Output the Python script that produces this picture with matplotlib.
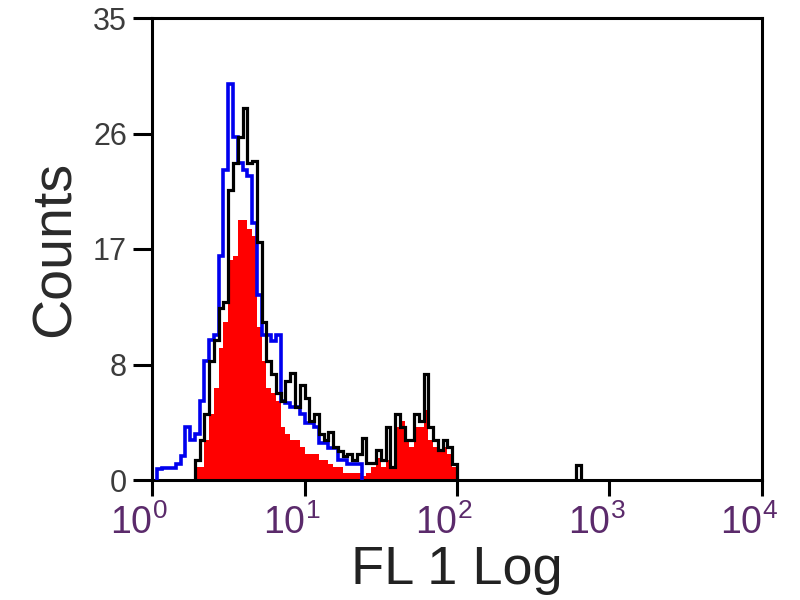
import matplotlib.pyplot as plt
import matplotlib.transforms as mtransforms
import numpy as np

plt.rcParams["font.family"] = ["Liberation Sans", "DejaVu Sans"]
plt.rcParams["mathtext.fontset"] = "custom"
plt.rcParams["mathtext.rm"] = "Liberation Sans"
plt.rcParams["mathtext.it"] = "Liberation Sans"

CH_PER_DECADE = 32  # channels per log decade

# counts per channel, channel 0 starts at 10^0
blue_counts = [0, 0.8, 0.9, 0.9, 0.9, 1.2, 1.8, 4.0, 3.0, 3.5,
               6.0, 9.0, 10.6, 11.0, 17.0, 23.5, 30.0, 26.0, 24.0, 23.5,
               23.0, 19.5, 14.0, 11.0, 11.0, 10.5, 11.0, 6.0, 5.8, 5.5,
               5.5, 5.0, 4.3, 4.3, 4.0, 2.8, 2.8, 2.4, 2.4, 1.5,
               1.5, 1.2, 1.2, 1.2, 0]

black_counts = [0, 0, 0, 0, 0, 0, 0, 0, 0, 1.5,
                3.0, 5.0, 9.0, 10.6, 13.0, 13.5, 22.0, 24.0, 26.0, 28.2,
                24.0, 24.2, 18.0, 12.0, 9.0, 8.0, 6.6, 6.0, 7.5, 8.1,
                5.5, 7.2, 6.2, 4.5, 5.0, 3.5, 3.0, 3.6, 2.5, 2.2,
                1.8, 2.0, 1.5, 2.0, 3.2, 1.3, 1.3, 2.3, 1.5, 4.0,
                1.0, 5.0, 4.0, 3.0, 3.0, 5.0, 4.5, 8.0, 4.0, 3.0,
                2.3, 3.0, 2.5, 1.2]
black_spike_channel = 89
black_spike_count = 1.1

red_counts = [0, 0, 0, 0, 0, 0, 0, 0, 0, 1.0,
              1.0, 3.0, 5.0, 7.0, 10.0, 12.0, 16.7, 17.0, 19.7, 19.7,
              19.0, 18.5, 11.6, 9.0, 7.0, 6.6, 6.0, 4.0, 3.5, 3.0,
              3.0, 2.5, 2.0, 2.0, 2.0, 1.5, 1.5, 1.2, 1.0, 1.0,
              0.5, 0.5, 0.5, 0.5, 0.3, 0.5, 1.0, 1.7, 1.0, 1.5,
              1.0, 4.0, 4.5, 3.0, 2.5, 4.0, 4.0, 5.3, 3.0, 2.5,
              2.3, 2.5, 2.0, 1.0]

# the y axis is split in 4 equal steps, labels are truncated
y_ticks = [0, 8.75, 17.5, 26.25, 35]
y_tick_labels = ["0", "8", "17", "26", "35"]
x_ticks = [1, 10, 100, 1000, 10000]
x_tick_labels = [r"$10^{0}$", r"$10^{1}$", r"$10^{2}$", r"$10^{3}$", r"$10^{4}$"]


def channel_edges(first, n):
    return 10 ** (np.arange(first, first + n + 1) / CH_PER_DECADE)


def trimmed(counts):
    # drop leading / trailing empty channels so no line runs along the baseline
    c = np.asarray(counts, dtype=float)
    nz = np.nonzero(c)[0]
    lo, hi = nz[0], nz[-1] + 1
    return c[lo:hi], channel_edges(lo, hi - lo)


fig = plt.figure(figsize=(8, 6), dpi=100)
ax = fig.add_axes([0.19, 0.2, 0.7625, 0.77])

vals, edges = trimmed(red_counts)
ax.stairs(vals, edges, fill=True, color="#ff0000", zorder=2)
vals, edges = trimmed(blue_counts)
ax.stairs(vals, edges, color="#0000ee", linewidth=2.6, zorder=3)
vals, edges = trimmed(black_counts)
ax.stairs(vals, edges, color="black", linewidth=2.3, zorder=4)
ax.stairs([black_spike_count], channel_edges(black_spike_channel, 1),
          color="black", linewidth=2.3, zorder=4)

ax.set_xscale("log")
ax.set_xlim(1, 10000)
ax.set_ylim(0, 35)
ax.minorticks_off()
ax.set_xticks(x_ticks)
ax.set_xticklabels(x_tick_labels, color="#5b2a6b", fontsize=27)
ax.set_yticks(y_ticks)
ax.set_yticklabels(y_tick_labels, color="#3c3c3c", fontsize=22)

for s in ax.spines.values():
    s.set_linewidth(2.2)
ax.tick_params(axis="both", width=2.2, direction="out")
ax.tick_params(axis="y", length=14, pad=4)
ax.tick_params(axis="x", length=11.5, pad=6)

# tick labels on x sit a bit left of their ticks (after tick_params, which resets transforms)
shift = mtransforms.ScaledTranslation(-13 / 100, 0, fig.dpi_scale_trans)
for lbl in ax.get_xticklabels():
    lbl.set_transform(lbl.get_transform() + shift)

ax.set_ylabel("Counts", fontsize=40, color="#2a2a2a", labelpad=8)
ax.set_xlabel("FL 1 Log", fontsize=39, color="#222222", labelpad=2)

fig.savefig("out.png", dpi=100)
